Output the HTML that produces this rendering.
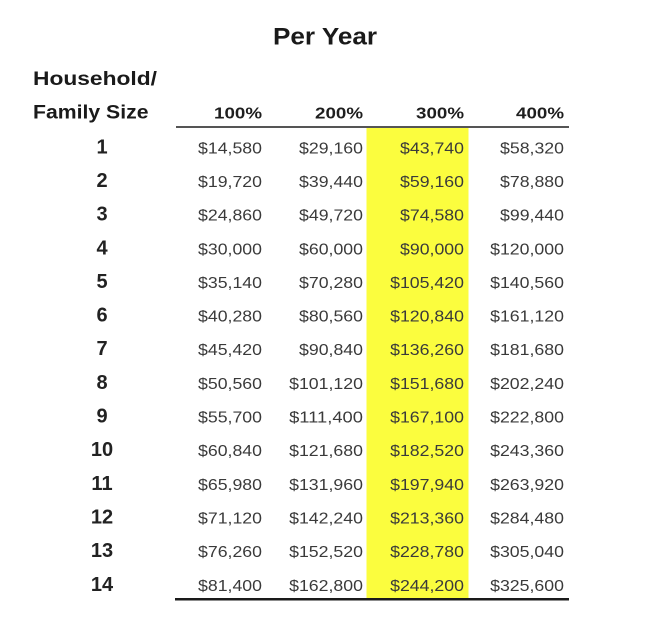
<!DOCTYPE html>
<html><head><meta charset="utf-8"><style>
html,body{margin:0;padding:0;background:#fff;}
svg{display:block;}
.n{font-family:"Liberation Sans",sans-serif;font-size:16px;fill:#3a3a3a;text-anchor:end;}
.h{font-family:"Liberation Sans",sans-serif;font-size:16px;font-weight:bold;fill:#1e1e1e;text-anchor:end;}
.r{font-family:"Liberation Sans",sans-serif;font-size:20px;font-weight:bold;fill:#222;text-anchor:middle;}
.t{font-family:"Liberation Sans",sans-serif;font-weight:bold;fill:#1a1a1a;}
</style></head><body>
<svg width="666" height="634" viewBox="0 0 666 634" xmlns="http://www.w3.org/2000/svg">
<rect x="0" y="0" width="666" height="634" fill="#fff"/>
<rect x="366.5" y="128" width="102" height="471" fill="#fbfd3e"/>
<text class="t" x="273" y="44.3" font-size="24" textLength="104" lengthAdjust="spacingAndGlyphs">Per Year</text>
<text class="t" x="33" y="85" font-size="19" fill="#2a2a2a" textLength="124" lengthAdjust="spacingAndGlyphs">Household/</text>
<text class="t" x="33" y="118.3" font-size="19" fill="#2a2a2a" textLength="115.5" lengthAdjust="spacingAndGlyphs">Family Size</text>
<text class="h" x="262" y="118.3" textLength="48" lengthAdjust="spacingAndGlyphs">100%</text>
<text class="h" x="363" y="118.3" textLength="48" lengthAdjust="spacingAndGlyphs">200%</text>
<text class="h" x="464" y="118.3" textLength="48" lengthAdjust="spacingAndGlyphs">300%</text>
<text class="h" x="564" y="118.3" textLength="48" lengthAdjust="spacingAndGlyphs">400%</text>
<rect x="176" y="126" width="393" height="2" fill="#555"/>
<rect x="175" y="598" width="394" height="2.5" fill="#1a1a1a"/>

<g>
<text class="r" x="102" y="153.3">1</text>
<text class="r" x="102" y="187">2</text>
<text class="r" x="102" y="220.6">3</text>
<text class="r" x="102" y="254.3">4</text>
<text class="r" x="102" y="287.9">5</text>
<text class="r" x="102" y="321.6">6</text>
<text class="r" x="102" y="355.2">7</text>
<text class="r" x="102" y="388.9">8</text>
<text class="r" x="102" y="422.5">9</text>
<text class="r" x="102" y="456.2">10</text>
<text class="r" x="102" y="489.8">11</text>
<text class="r" x="102" y="523.5">12</text>
<text class="r" x="102" y="557.1">13</text>
<text class="r" x="102" y="590.8">14</text>
</g>

<g>
<text class="n" x="262" y="153.3" textLength="64" lengthAdjust="spacingAndGlyphs">$14,580</text>
<text class="n" x="262" y="187" textLength="64" lengthAdjust="spacingAndGlyphs">$19,720</text>
<text class="n" x="262" y="220.6" textLength="64" lengthAdjust="spacingAndGlyphs">$24,860</text>
<text class="n" x="262" y="254.3" textLength="64" lengthAdjust="spacingAndGlyphs">$30,000</text>
<text class="n" x="262" y="287.9" textLength="64" lengthAdjust="spacingAndGlyphs">$35,140</text>
<text class="n" x="262" y="321.6" textLength="64" lengthAdjust="spacingAndGlyphs">$40,280</text>
<text class="n" x="262" y="355.2" textLength="64" lengthAdjust="spacingAndGlyphs">$45,420</text>
<text class="n" x="262" y="388.9" textLength="64" lengthAdjust="spacingAndGlyphs">$50,560</text>
<text class="n" x="262" y="422.5" textLength="64" lengthAdjust="spacingAndGlyphs">$55,700</text>
<text class="n" x="262" y="456.2" textLength="64" lengthAdjust="spacingAndGlyphs">$60,840</text>
<text class="n" x="262" y="489.8" textLength="64" lengthAdjust="spacingAndGlyphs">$65,980</text>
<text class="n" x="262" y="523.5" textLength="64" lengthAdjust="spacingAndGlyphs">$71,120</text>
<text class="n" x="262" y="557.1" textLength="64" lengthAdjust="spacingAndGlyphs">$76,260</text>
<text class="n" x="262" y="590.8" textLength="64" lengthAdjust="spacingAndGlyphs">$81,400</text>
</g>

<g>
<text class="n" x="363" y="153.3" textLength="64" lengthAdjust="spacingAndGlyphs">$29,160</text>
<text class="n" x="363" y="187" textLength="64" lengthAdjust="spacingAndGlyphs">$39,440</text>
<text class="n" x="363" y="220.6" textLength="64" lengthAdjust="spacingAndGlyphs">$49,720</text>
<text class="n" x="363" y="254.3" textLength="64" lengthAdjust="spacingAndGlyphs">$60,000</text>
<text class="n" x="363" y="287.9" textLength="64" lengthAdjust="spacingAndGlyphs">$70,280</text>
<text class="n" x="363" y="321.6" textLength="64" lengthAdjust="spacingAndGlyphs">$80,560</text>
<text class="n" x="363" y="355.2" textLength="64" lengthAdjust="spacingAndGlyphs">$90,840</text>
<text class="n" x="363" y="388.9" textLength="73.9" lengthAdjust="spacingAndGlyphs">$101,120</text>
<text class="n" x="363" y="422.5" textLength="73.9" lengthAdjust="spacingAndGlyphs">$111,400</text>
<text class="n" x="363" y="456.2" textLength="73.9" lengthAdjust="spacingAndGlyphs">$121,680</text>
<text class="n" x="363" y="489.8" textLength="73.9" lengthAdjust="spacingAndGlyphs">$131,960</text>
<text class="n" x="363" y="523.5" textLength="73.9" lengthAdjust="spacingAndGlyphs">$142,240</text>
<text class="n" x="363" y="557.1" textLength="73.9" lengthAdjust="spacingAndGlyphs">$152,520</text>
<text class="n" x="363" y="590.8" textLength="73.9" lengthAdjust="spacingAndGlyphs">$162,800</text>
</g>

<g>
<text class="n" x="464" y="153.3" textLength="64" lengthAdjust="spacingAndGlyphs">$43,740</text>
<text class="n" x="464" y="187" textLength="64" lengthAdjust="spacingAndGlyphs">$59,160</text>
<text class="n" x="464" y="220.6" textLength="64" lengthAdjust="spacingAndGlyphs">$74,580</text>
<text class="n" x="464" y="254.3" textLength="64" lengthAdjust="spacingAndGlyphs">$90,000</text>
<text class="n" x="464" y="287.9" textLength="73.9" lengthAdjust="spacingAndGlyphs">$105,420</text>
<text class="n" x="464" y="321.6" textLength="73.9" lengthAdjust="spacingAndGlyphs">$120,840</text>
<text class="n" x="464" y="355.2" textLength="73.9" lengthAdjust="spacingAndGlyphs">$136,260</text>
<text class="n" x="464" y="388.9" textLength="73.9" lengthAdjust="spacingAndGlyphs">$151,680</text>
<text class="n" x="464" y="422.5" textLength="73.9" lengthAdjust="spacingAndGlyphs">$167,100</text>
<text class="n" x="464" y="456.2" textLength="73.9" lengthAdjust="spacingAndGlyphs">$182,520</text>
<text class="n" x="464" y="489.8" textLength="73.9" lengthAdjust="spacingAndGlyphs">$197,940</text>
<text class="n" x="464" y="523.5" textLength="73.9" lengthAdjust="spacingAndGlyphs">$213,360</text>
<text class="n" x="464" y="557.1" textLength="73.9" lengthAdjust="spacingAndGlyphs">$228,780</text>
<text class="n" x="464" y="590.8" textLength="73.9" lengthAdjust="spacingAndGlyphs">$244,200</text>
</g>

<g>
<text class="n" x="564" y="153.3" textLength="64" lengthAdjust="spacingAndGlyphs">$58,320</text>
<text class="n" x="564" y="187" textLength="64" lengthAdjust="spacingAndGlyphs">$78,880</text>
<text class="n" x="564" y="220.6" textLength="64" lengthAdjust="spacingAndGlyphs">$99,440</text>
<text class="n" x="564" y="254.3" textLength="73.9" lengthAdjust="spacingAndGlyphs">$120,000</text>
<text class="n" x="564" y="287.9" textLength="73.9" lengthAdjust="spacingAndGlyphs">$140,560</text>
<text class="n" x="564" y="321.6" textLength="73.9" lengthAdjust="spacingAndGlyphs">$161,120</text>
<text class="n" x="564" y="355.2" textLength="73.9" lengthAdjust="spacingAndGlyphs">$181,680</text>
<text class="n" x="564" y="388.9" textLength="73.9" lengthAdjust="spacingAndGlyphs">$202,240</text>
<text class="n" x="564" y="422.5" textLength="73.9" lengthAdjust="spacingAndGlyphs">$222,800</text>
<text class="n" x="564" y="456.2" textLength="73.9" lengthAdjust="spacingAndGlyphs">$243,360</text>
<text class="n" x="564" y="489.8" textLength="73.9" lengthAdjust="spacingAndGlyphs">$263,920</text>
<text class="n" x="564" y="523.5" textLength="73.9" lengthAdjust="spacingAndGlyphs">$284,480</text>
<text class="n" x="564" y="557.1" textLength="73.9" lengthAdjust="spacingAndGlyphs">$305,040</text>
<text class="n" x="564" y="590.8" textLength="73.9" lengthAdjust="spacingAndGlyphs">$325,600</text>
</g>
</svg>
</body></html>
